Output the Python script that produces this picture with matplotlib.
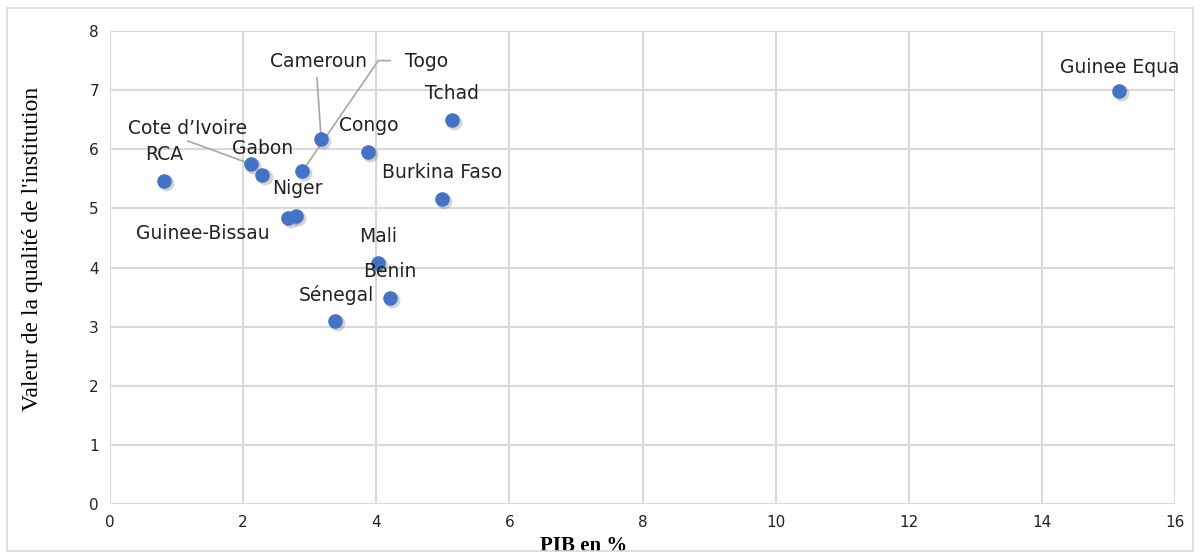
import matplotlib.pyplot as plt
import matplotlib.transforms as mtransforms
from matplotlib.patches import Rectangle

# data
pays = ["RCA", "Cote d\u2019Ivoire", "Gabon", "Cameroun", "Togo", "Congo", "Tchad",
        "Burkina Faso", "Niger", "Guinee-Bissau", "Mali", "Benin", "S\u00e9negal", "Guinee Equa"]
pib = [0.81, 2.12, 2.29, 3.17, 2.89, 3.88, 5.13, 4.98, 2.80, 2.68, 4.02, 4.20, 3.38, 15.16]
qualite = [5.47, 5.75, 5.57, 6.18, 5.63, 5.96, 6.50, 5.16, 4.87, 4.84, 4.08, 3.49, 3.10, 6.99]

# label positions (data coords)
lab_x = [0.81, 1.17, 2.29, 3.13, 4.75, 3.88, 5.13, 4.99, 2.81, 1.40, 4.03, 4.21, 3.40, 15.17]
lab_y = [5.91, 6.36, 6.01, 7.48, 7.48, 6.40, 6.95, 5.60, 5.33, 4.57, 4.53, 3.93, 3.54, 7.39]

# leader lines: (country index, path of label-side points)
leaders = {
    1: [(1.17, 6.14)],
    3: [(3.11, 7.21)],
    4: [(4.21, 7.50), (4.03, 7.50)],
}

fig = plt.figure(figsize=(12, 5.59), dpi=100)
ax = fig.add_axes([0.0917, 0.098, 0.8875, 0.8465])

fig.patches.append(Rectangle((0.006, 0.014), 0.988, 0.972, transform=fig.transFigure,
                             fill=False, ec="#d9d9d9", lw=1.2))

ax.set_xlim(0, 16)
ax.set_ylim(0, 8)
ax.set_xticks(range(0, 17, 2))
ax.set_yticks(range(0, 9))
ax.grid(True, color="#d9d9d9", lw=1.5)
ax.set_axisbelow(True)
for s in ax.spines.values():
    s.set_visible(False)
ax.tick_params(length=0, labelsize=11, labelcolor="#222222", pad=8)
for t in ax.get_xticklabels() + ax.get_yticklabels():
    t.set_family("DejaVu Sans")

# leader lines
for i, pts in leaders.items():
    xs = [p[0] for p in pts] + [pib[i]]
    ys = [p[1] for p in pts] + [qualite[i]]
    ax.plot(xs, ys, color="#a6a6a6", lw=1.2, zorder=2)

# shadow + markers
shadow = ax.transData + mtransforms.ScaledTranslation(1.5 / 72, -1.5 / 72, fig.dpi_scale_trans)
ax.scatter(pib, qualite, s=130, color="#555555", alpha=0.25, lw=0, transform=shadow, zorder=3)
ax.scatter(pib, qualite, s=110, color="#4472C4", lw=0, zorder=4)

for nom, x, y in zip(pays, lab_x, lab_y):
    ax.text(x, y, nom, ha="center", va="center", fontsize=13.5,
            family="DejaVu Sans", color="#222222", zorder=5)

ax.set_xlabel("PIB en %", family="Liberation Serif", fontweight="bold", fontsize=15)
ax.xaxis.set_label_coords(0.445, -0.068)
ax.set_ylabel("Valeur de la qualit\u00e9 de l'institution", family="Liberation Serif",
              fontsize=17)
ax.yaxis.set_label_coords(-0.063, 0.54)

fig.savefig("out.png", dpi=100)
